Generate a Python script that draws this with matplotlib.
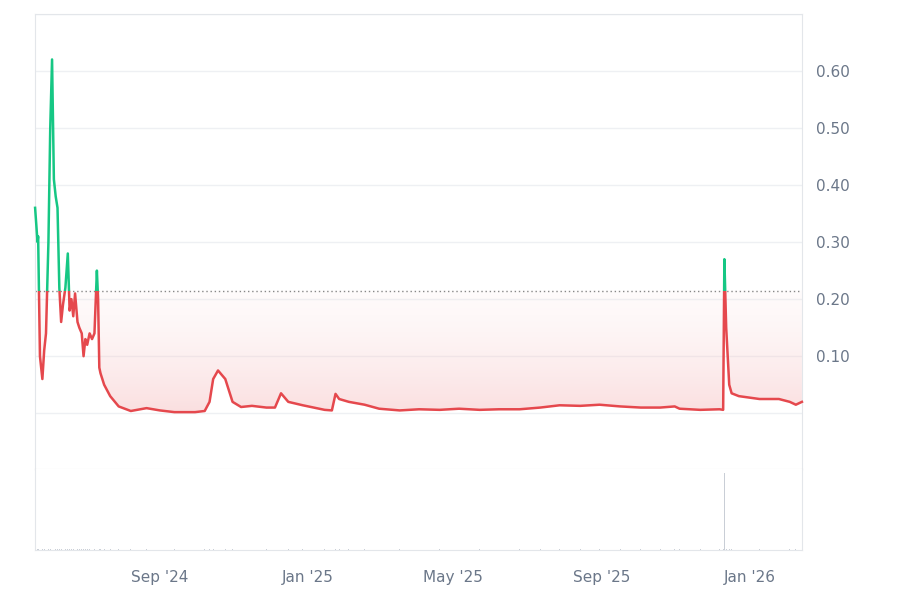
import matplotlib
matplotlib.use("Agg")
import matplotlib.pyplot as plt
import numpy as np
import pandas as pd
from matplotlib.patches import Rectangle, Polygon

start_date = "2024-05-21"
day_offsets = [0, 2, 2.5, 3, 4, 6, 7.5, 9, 11, 12.5, 14, 15.5, 17, 18.5, 20, 21.5, 23, 25, 27, 28.5, 30,
               31.5, 33, 35, 36.5, 38.5, 40, 41.5, 43, 45, 47, 49, 51, 52, 53, 54, 57, 62, 69, 79, 92, 103,
               115, 132, 140, 144, 147, 151, 157, 163, 170, 179, 191, 198, 203, 209, 221, 239, 245, 248,
               251, 259, 272, 284, 301, 317, 334, 350, 367, 383, 400, 417, 433, 450, 466, 483, 500, 516,
               528, 532, 549, 565, 568, 569, 570.5, 573, 575, 581, 598, 614, 623, 628, 633]
prices = [0.36, 0.30, 0.31, 0.24, 0.10, 0.06, 0.11, 0.14, 0.30, 0.50, 0.62, 0.41, 0.38, 0.36, 0.22,
          0.16, 0.19, 0.22, 0.28, 0.18, 0.20, 0.17, 0.21, 0.16, 0.15, 0.14, 0.10, 0.13, 0.12, 0.14,
          0.13, 0.14, 0.25, 0.20, 0.08, 0.07, 0.05, 0.03, 0.012, 0.004, 0.009, 0.005, 0.002, 0.002,
          0.004, 0.02, 0.06, 0.075, 0.06, 0.02, 0.011, 0.013, 0.01, 0.01, 0.035, 0.02, 0.014, 0.006,
          0.005, 0.034, 0.025, 0.02, 0.015, 0.008, 0.005, 0.007, 0.006, 0.008, 0.006, 0.007, 0.007,
          0.01, 0.014, 0.013, 0.015, 0.012, 0.01, 0.01, 0.012, 0.008, 0.006, 0.007, 0.006, 0.27,
          0.15, 0.05, 0.035, 0.03, 0.025, 0.025, 0.02, 0.015, 0.02]
volumes = [0.02] * len(prices)
volumes[83] = 1.0
baseline = 0.215
tick_dates = ["2024-09-01", "2025-01-01", "2025-05-01", "2025-09-01", "2026-01-01"]
tick_labels = ["Sep '24", "Jan '25", "May '25", "Sep '25", "Jan '26"]
ytick_vals = [0.1, 0.2, 0.3, 0.4, 0.5, 0.6]

dates = pd.to_datetime(start_date) + pd.to_timedelta(np.array(day_offsets), unit="D")
x = matplotlib.dates.date2num(dates)
y = np.array(prices)

RED = "#e5484d"
GREEN = "#16c784"
GRID = "#eef0f3"
TXT = "#6b7789"

fig = plt.figure(figsize=(9, 6), dpi=100)
ax = fig.add_axes([0.039, 0.218, 0.852, 0.759])
axv = fig.add_axes([0.039, 0.083, 0.852, 0.135], sharex=ax)

xmin, xmax = x[0], x[-1]
ax.set_xlim(xmin, xmax)
ax.set_ylim(-0.098, 0.70)

for v in np.arange(0.0, 0.71, 0.1):
    ax.axhline(v, color=GRID, lw=1, zorder=0)

yc = np.minimum(y, baseline)
verts = [(x[0], baseline)] + list(zip(x, yc)) + [(x[-1], baseline)]
poly = Polygon(verts, closed=True, facecolor="none", edgecolor="none")
ax.add_patch(poly)
grad = np.linspace(0.42, 0.14, 256).reshape(-1, 1)
cmap = matplotlib.colors.LinearSegmentedColormap.from_list("g", [(1, 1, 1, 0), (0.9, 0.28, 0.3, 1)])
im = ax.imshow(grad, extent=[xmin, xmax, 0, baseline], origin="lower", aspect="auto",
               cmap=cmap, vmin=0, vmax=1, zorder=1)
im.set_clip_path(poly)

lr, = ax.plot(x, y, color=RED, lw=1.8, zorder=3)
lg, = ax.plot(x, y, color=GREEN, lw=1.8, zorder=3)
lr.set_clip_path(Rectangle((xmin - 10, -1), xmax - xmin + 20, 1 + baseline, transform=ax.transData))
lg.set_clip_path(Rectangle((xmin - 10, baseline), xmax - xmin + 20, 2, transform=ax.transData))
ax.axhline(baseline, color="#888888", lw=1, ls=(0, (1, 2)), zorder=2)

ax.yaxis.tick_right()
ax.set_yticks(ytick_vals)
ax.set_yticklabels([f"{v:.2f}" for v in ytick_vals], color=TXT, fontsize=11)
ax.tick_params(axis="y", length=0, pad=10)
ax.tick_params(axis="x", length=0, labelbottom=False)
for s in ax.spines.values():
    s.set_color("#e3e6ea")
ax.spines["bottom"].set_color("#dfe2e6")

axv.bar(x, volumes, width=0.6, color="#c9ced6")
axv.set_ylim(0, 1.05)
axv.set_yticks([])
axv.set_xticks(matplotlib.dates.date2num(pd.to_datetime(tick_dates)))
axv.set_xticklabels(tick_labels, color=TXT, fontsize=11)
axv.tick_params(axis="x", length=0, pad=14)
for s in axv.spines.values():
    s.set_color("#e3e6ea")
axv.spines["top"].set_visible(False)

fig.savefig("out.png", dpi=100, facecolor="white")
